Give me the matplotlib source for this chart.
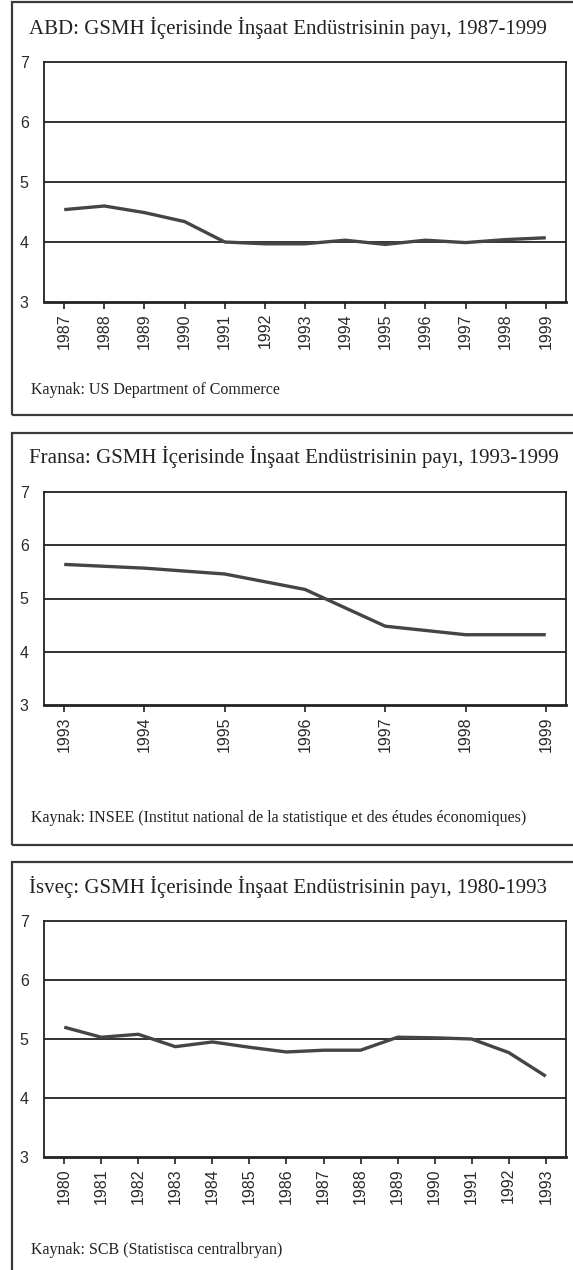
import matplotlib
matplotlib.use("Agg")
import matplotlib.pyplot as plt
from matplotlib.patches import Rectangle

# --- data ---
abd_years = [1987, 1988, 1989, 1990, 1991, 1992, 1993, 1994, 1995, 1996, 1997, 1998, 1999]
abd_share = [4.54, 4.60, 4.49, 4.34, 4.00, 3.97, 3.97, 4.03, 3.96, 4.03, 3.99, 4.04, 4.07]

fra_years = [1993, 1994, 1995, 1996, 1997, 1998, 1999]
fra_share = [5.64, 5.57, 5.46, 5.17, 4.48, 4.32, 4.32]

isv_years = [1980, 1981, 1982, 1983, 1984, 1985, 1986, 1987, 1988, 1989, 1990, 1991, 1992, 1993]
isv_share = [5.20, 5.03, 5.08, 4.87, 4.95, 4.86, 4.78, 4.81, 4.81, 5.03, 5.02, 5.00, 4.77, 4.37]

titles = [
    "ABD: GSMH İçerisinde İnşaat Endüstrisinin payı, 1987-1999",
    "Fransa: GSMH İçerisinde İnşaat Endüstrisinin payı, 1993-1999",
    "İsveç: GSMH İçerisinde İnşaat Endüstrisinin payı, 1980-1993",
]
sources = [
    "Kaynak: US Department of Commerce",
    "Kaynak: INSEE (Institut national de la statistique et des études économiques)",
    "Kaynak: SCB (Statistisca centralbryan)",
]
y_ticks = [3, 4, 5, 6, 7]

W, H = 573, 1270
fig = plt.figure(figsize=(W / 100, H / 100), dpi=100)
fig.patch.set_facecolor("white")


def fx(px):
    return px / W


def fy(py):
    return 1 - py / H


# panel layout in pixels: box top, box bottom, title y, axes top, axes bottom, source y
panels = [
    (2, 415, 28, 62, 302, 390),
    (433, 845, 457, 492, 705, 818),
    (862, 1290, 887, 921, 1157, 1250),
]
series = [(abd_years, abd_share), (fra_years, fra_share), (isv_years, isv_share)]

for (btop, bbot, ty, atop, abot, sy), (xs, ys), title, src in zip(panels, series, titles, sources):
    box = Rectangle((fx(12), fy(bbot)), fx(600 - 12), (bbot - btop) / H,
                    transform=fig.transFigure, fill=False, edgecolor="#3a3a3a",
                    linewidth=1.6, zorder=0)
    fig.add_artist(box)
    fig.text(fx(29), fy(ty), title, family="Liberation Serif", fontsize=15,
             color="#222222", va="center", ha="left")
    fig.text(fx(31), fy(sy), src, family="Liberation Serif", fontsize=11.5,
             color="#222222", va="center", ha="left")

    ax = fig.add_axes([fx(44), fy(abot), fx(566 - 44), (abot - atop) / H])
    ax.plot(xs, ys, color="#454545", linewidth=2.4, solid_capstyle="butt")
    ax.set_ylim(3, 7)
    ax.set_yticks(y_ticks)
    ax.set_xticks(xs)
    ax.set_xticklabels([str(x) for x in xs], rotation=90, family="Liberation Sans",
                       fontsize=11.5, color="#2a2a2a")
    ax.set_yticklabels([str(v) for v in y_ticks], family="Liberation Sans",
                       fontsize=11.5, color="#2a2a2a")
    ax.margins(x=0.042)
    for v in [4, 5, 6]:
        ax.axhline(v, color="#222222", linewidth=1.3, zorder=1)
    for s in ax.spines.values():
        s.set_color("#222222")
        s.set_linewidth(1.3)
    ax.spines["bottom"].set_linewidth(2.0)
    ax.tick_params(axis="y", length=0, pad=11)
    ax.tick_params(axis="x", length=5, width=1.3, color="#333333", pad=3, direction="out")

fig.savefig("out.png", dpi=100)
